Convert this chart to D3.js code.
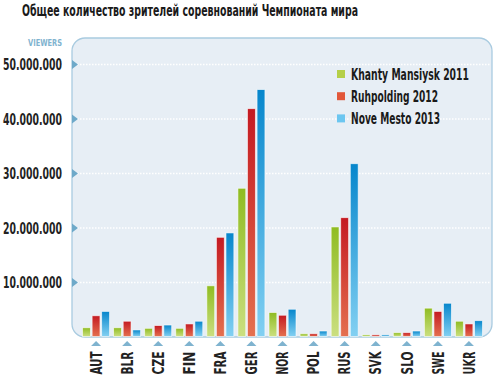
<!DOCTYPE html>
<html><head><meta charset="utf-8">
<script src="https://cdn.jsdelivr.net/npm/d3@7"></script>
<style>
body{margin:0;background:#fff;}
svg text{font-family:"DejaVu Sans Condensed","Liberation Sans Narrow","DejaVu Sans",sans-serif;font-weight:bold;}
</style></head>
<body><svg id="c" width="500" height="380"></svg>
<script>
const title = "Общее количество зрителей соревнований Чемпионата мира";
const categories = ["AUT","BLR","CZE","FIN","FRA","GER","NOR","POL","RUS","SVK","SLO","SWE","UKR"];
const seriesNames = ["Khanty Mansiysk 2011","Ruhpolding 2012","Nove Mesto 2013"];
const khanty2011 = [1.6,1.6,1.5,1.5,9.3,27.2,4.4,0.5,20.1,0.3,0.7,5.2,2.8].map(v=>v*1e6);
const ruhpolding2012 = [3.8,2.8,2.0,2.3,18.2,41.8,3.9,0.5,21.8,0.3,0.7,4.6,2.3].map(v=>v*1e6);
const noveMesto2013 = [4.6,1.2,2.1,2.8,19.0,45.3,5.0,1.0,31.7,0.3,1.0,6.1,2.9].map(v=>v*1e6);
const yTicks = [10e6,20e6,30e6,40e6,50e6];
const series = [khanty2011, ruhpolding2012, noveMesto2013];

function fit(sel, w){
  sel.attr("textLength", w).attr("lengthAdjust","spacingAndGlyphs");
}

const svg = d3.select("#c");
const defs = svg.append("defs");
const grads = [["#8fbc22","#cbdf80"],["#c41a22","#e4704f"],["#0686cc","#82d0f2"]];
grads.forEach((g,i)=>{
  const lg = defs.append("linearGradient").attr("id","g"+i).attr("x1",0).attr("x2",0).attr("y1",0).attr("y2",1);
  lg.append("stop").attr("offset","0%").attr("stop-color",g[0]);
  lg.append("stop").attr("offset","100%").attr("stop-color",g[1]);
});
const legendColors = ["#b5cf48","#e2573a","#6cc6f0"];

const y = d3.scaleLinear().domain([0,50e6]).range([336.5,64]);
const x = d3.scaleBand().domain(categories).range([80.5,484.5]);
const xs = d3.scaleBand().domain(d3.range(3)).range([-13.5,13.5]).paddingInner(0.18);

// title
svg.append("text").attr("x",22).attr("y",16).attr("font-size",15).attr("fill","#1a1a1a").text(title)
  .call(fit, 336);

// panel
(function(){
  const p=d3.path();const l=72,t=38,r=492,b=337,rd=13;
  p.moveTo(l+rd,t);p.lineTo(r-rd,t);p.arcTo(r,t,r,t+rd,rd);p.lineTo(r,b-rd);p.arcTo(r,b,r-rd,b,rd);
  p.lineTo(l+rd,b);p.arcTo(l,b,l,b-rd,rd);p.lineTo(l,t+rd);p.arcTo(l,t,l+rd,t,rd);p.closePath();
  svg.append("path").attr("fill","#e7eef5").attr("stroke","#a9cbe0").attr("stroke-width",1.3).attr("d",p.toString());
})();

// grid + y axis
const yAxis = d3.axisLeft(y).tickValues(yTicks).tickSize(0).tickPadding(10)
  .tickFormat(d=>d3.format(",")(d).replace(/,/g,"."));
const ga = svg.append("g").attr("transform","translate(72,0)").call(yAxis);
ga.select(".domain").remove();
ga.selectAll("text").attr("font-size",15.5).attr("fill","#222").attr("font-family",null).attr("dy","0.36em")
  .call(fit, 59);
ga.selectAll(".tick").append("line").attr("x1",5).attr("x2",418).attr("stroke","#fff")
  .attr("stroke-width",1.3).attr("stroke-dasharray","1.5,1.5");
ga.selectAll(".tick").append("path").attr("d","M0,-4.5L6,0L0,4.5Z").attr("fill","#6ea9c9");

svg.append("text").attr("x",62).attr("y",46).attr("text-anchor","end").attr("font-size",9)
  .attr("fill","#7fb3cf").text("VIEWERS").call(fit, 34);

// bars
series.forEach((vals,si)=>{
  svg.append("g").selectAll("rect").data(vals).join("rect")
    .attr("x",(d,i)=>x(categories[i])+x.bandwidth()/2+xs(si))
    .attr("width",xs.bandwidth())
    .attr("y",d=>y(d))
    .attr("height",d=>y(0)-y(d))
    .attr("fill","url(#g"+si+")")
    .attr("stroke","#fff").attr("stroke-opacity",0.7).attr("stroke-width",0.8);
});

// x axis
const xAxis = d3.axisBottom(x).tickSize(0).tickPadding(0);
const gx = svg.append("g").attr("transform","translate(0,341)").call(xAxis);
gx.select(".domain").remove();
gx.selectAll(".tick").append("path").attr("d","M-5,5L5,5L0,0Z").attr("fill","#7fb3cf");
gx.selectAll("text").attr("font-family",null).attr("font-size",16).attr("fill","#222")
  .attr("transform","rotate(-90)").attr("text-anchor","end").attr("x",-10.5).attr("y",0).attr("dy","0.36em")
  .call(fit, 23);

// legend
const lg = svg.append("g");
const legendW = [118, 87, 89];
seriesNames.forEach((n,i)=>{
  const yy = 74.5 + i*22.2;
  lg.append("rect").attr("x",337).attr("y",yy-4.5).attr("width",8).attr("height",8).attr("fill",legendColors[i]);
  lg.append("text").attr("x",351).attr("y",yy).attr("dy","0.36em").attr("font-size",15.5).attr("fill","#1a1a1a").text(n)
    .call(fit, legendW[i]);
});
</script></body></html>
